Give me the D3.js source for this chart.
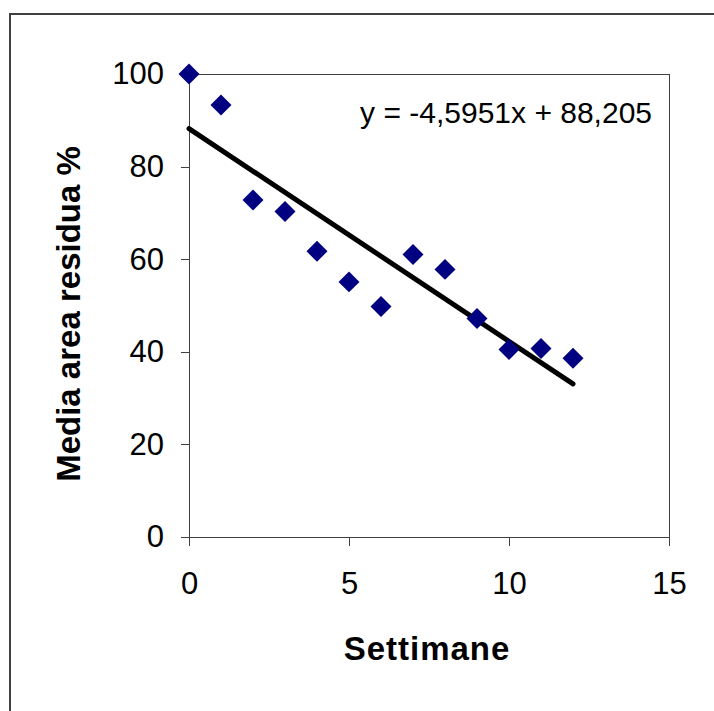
<!DOCTYPE html>
<html>
<head>
<meta charset="utf-8">
<script src="https://cdn.jsdelivr.net/npm/d3@7"></script>
<style>
  body { margin: 0; background: #fff; }
  svg { display: block; }
  .axis path, .axis line { stroke: #404040; shape-rendering: crispEdges; }
  .axis text { font-family: "Liberation Sans", Arial, sans-serif; font-size: 31px; fill: #000; }
</style>
</head>
<body>
<div id="chart"></div>
<script>
// weeks and mean residual area (%)
var weeks = [0, 1, 2, 3, 4, 5, 6, 7, 8, 9, 10, 11, 12];
var residual = [100, 93.3, 72.8, 70.3, 61.7, 55.1, 49.8, 61.0, 57.8, 47.2, 40.5, 40.7, 38.6];

// linear trend as printed on the chart
var slope = -4.5951;
var intercept = 88.205;
var trendLabel = "y = -4,5951x + 88,205";

var xTicks = [0, 5, 10, 15];
var yTicks = [0, 20, 40, 60, 80, 100];

var width = 714, height = 711;

var svg = d3.select("#chart").append("svg")
    .attr("width", width)
    .attr("height", height);

// outer chart frame (only top and left edges fall inside the picture)
svg.append("rect")
    .attr("x", 10)
    .attr("y", 14)
    .attr("width", 720)
    .attr("height", 720)
    .attr("fill", "none")
    .attr("stroke", "#404040")
    .attr("stroke-width", 2);

var xScale = d3.scaleLinear().domain([0, 15]).range([189, 669]);
var yScale = d3.scaleLinear().domain([0, 100]).range([537, 74]);

// plot area box
svg.append("rect")
    .attr("x", xScale(0))
    .attr("y", yScale(100))
    .attr("width", xScale(15) - xScale(0))
    .attr("height", yScale(0) - yScale(100))
    .attr("fill", "none")
    .attr("stroke", "#404040")
    .attr("stroke-width", 1)
    .attr("shape-rendering", "crispEdges");

var leftAxis = d3.axisLeft(yScale)
    .tickValues(yTicks)
    .tickSize(8)
    .tickPadding(17)
    .tickSizeOuter(0);

var bottomAxis = d3.axisBottom(xScale)
    .tickValues(xTicks)
    .tickSize(9)
    .tickPadding(26)
    .tickSizeOuter(0);

svg.append("g")
    .classed("axis", true)
    .attr("transform", "translate(" + xScale(0) + ",0)")
    .call(leftAxis);

svg.append("g")
    .classed("axis", true)
    .attr("transform", "translate(0," + yScale(0) + ")")
    .call(bottomAxis);

// trend line
var trend = [0, 12].map(function(x) { return {x: x, y: slope * x + intercept}; });
var drawLine = d3.line()
    .x(function(d) { return xScale(d.x); })
    .y(function(d) { return yScale(d.y); });

svg.append("path")
    .datum(trend)
    .attr("d", drawLine)
    .attr("fill", "none")
    .attr("stroke", "#000")
    .attr("stroke-width", 5)
    .attr("stroke-linecap", "round");

// diamond markers
var diamond = d3.symbol().type(d3.symbolSquare).size(220);
svg.selectAll(".pt")
    .data(weeks)
    .enter()
    .append("path")
    .attr("class", "pt")
    .attr("d", diamond)
    .attr("transform", function(w, i) {
        return "translate(" + xScale(w) + "," + yScale(residual[i]) + ") rotate(45)";
    })
    .attr("fill", "#000080");

svg.append("text")
    .attr("x", 652)
    .attr("y", 123)
    .attr("text-anchor", "end")
    .style("font-family", "'Liberation Sans', Arial, sans-serif")
    .style("font-size", "30px")
    .text(trendLabel);

svg.append("text")
    .attr("x", 427)
    .attr("y", 660)
    .attr("text-anchor", "middle")
    .style("font-family", "'Liberation Sans', Arial, sans-serif")
    .style("font-size", "33px")
    .style("font-weight", "bold")
    .style("letter-spacing", "1px")
    .text("Settimane");

svg.append("text")
    .attr("transform", "translate(80,314) rotate(-90)")
    .attr("text-anchor", "middle")
    .style("font-family", "'Liberation Sans', Arial, sans-serif")
    .style("font-size", "33px")
    .style("font-weight", "bold")
    .text("Media area residua %");
</script>
</body>
</html>
